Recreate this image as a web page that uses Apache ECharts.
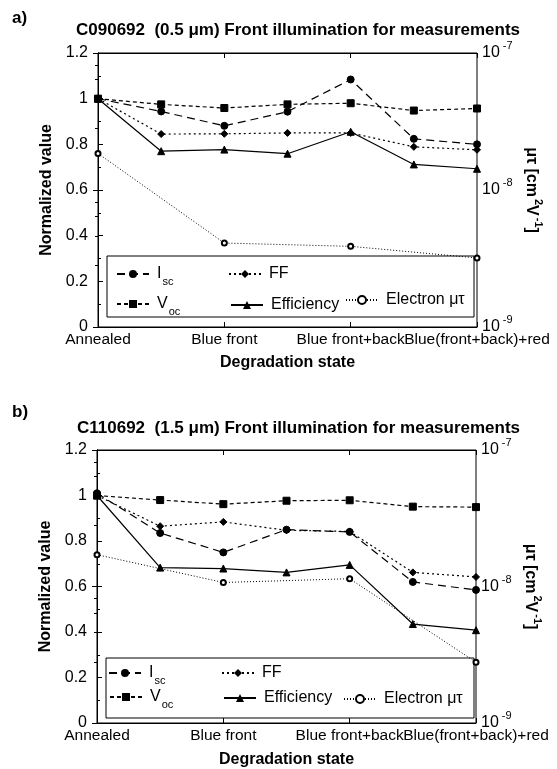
<!DOCTYPE html>
<html><head><meta charset="utf-8">
<script src="https://cdn.jsdelivr.net/npm/echarts@6/dist/echarts.min.js"></script>
<style>html,body{margin:0;padding:0;background:#fff}#c{width:557px;height:769px}</style>
</head><body><div id="c"></div>
<script>
// ---- data ----
const categories = ['Annealed', 'Blue front', 'Blue front+back', 'Blue(front+back)+red'];
const stepPositions = [0, 0.5, 1, 1.5, 2, 2.5, 3];
const muPositions = [0, 1, 2, 3];
const seriesNames = ['Isc', 'Voc', 'FF', 'Efficiency', 'Electron μτ'];
const titleA = 'C090692  (0.5 μm) Front illumination for measurements';
const titleB = 'C110692  (1.5 μm) Front illumination for measurements';
const panelLabels = ['a)', 'b)'];

const a_Isc = [1.00, 0.944, 0.881, 0.943, 1.084, 0.824, 0.800];
const a_Voc = [1.00, 0.975, 0.959, 0.975, 0.980, 0.948, 0.957];
const a_FF  = [1.00, 0.845, 0.846, 0.850, 0.850, 0.789, 0.776];
const a_Eff = [1.00, 0.770, 0.777, 0.759, 0.855, 0.712, 0.693];
const a_MuTau = [1.85e-8, 4.10e-9, 3.88e-9, 3.19e-9];

const b_Isc = [1.01, 0.835, 0.750, 0.850, 0.840, 0.620, 0.585];
const b_Voc = [1.00, 0.980, 0.962, 0.977, 0.979, 0.951, 0.949];
const b_FF  = [1.00, 0.865, 0.884, 0.847, 0.842, 0.662, 0.642];
const b_Eff = [1.00, 0.683, 0.679, 0.662, 0.695, 0.435, 0.408];
const b_MuTau = [1.71e-8, 1.07e-8, 1.14e-8, 2.79e-9];

// ---- styling / layout ----
const FONT = '"Liberation Sans", Arial, Helvetica, sans-serif';
const BLACK = '#000';
const panels = [
  { top: 53, left: 98, labelTop: 10, titleTop: 22, titleLeft: 76, title: titleA, nameGapX: 28,
    Isc: a_Isc, Voc: a_Voc, FF: a_FF, Eff: a_Eff, Mu: a_MuTau,
    box: [107, 256, 367, 61],
    leg: { Isc: [116, 266], FF: [228, 266], Voc: [116, 296], Efficiency: [230, 297], 'Electron μτ': [345, 292] } },
  { top: 450, left: 97, labelTop: 404, titleTop: 420, titleLeft: 77, title: titleB, nameGapX: 29,
    Isc: b_Isc, Voc: b_Voc, FF: b_FF, Eff: b_Eff, Mu: b_MuTau,
    box: [106, 658, 368, 60],
    leg: { Isc: [108, 665], FF: [221, 665], Voc: [109, 689], Efficiency: [223, 690], 'Electron μτ': [343, 691] } }
];
const PLOT_W = 379, PLOT_H = 274;

const styles = {
  'Isc':         { symbol: 'circle',   size: 7, type: [8, 5], width: 1.2 },
  'Voc':         { symbol: 'rect',     size: 7, type: [4, 3], width: 1.2 },
  'FF':          { symbol: 'diamond',  size: 7, type: [2, 3], width: 1.2 },
  'Efficiency':  { symbol: 'triangle', size: 7, type: 'solid', width: 1.2 },
  'Electron μτ': { symbol: 'emptyCircle', size: 5, type: [1, 2], width: 1 }
};

const supRich = { sup: { fontSize: 11, fontFamily: FONT, color: BLACK, padding: [0, 0, 14, 3] } };
const xLabelStyle = { fontFamily: FONT, fontSize: 15.5, color: BLACK, margin: 5, showMaxLabel: true, showMinLabel: true, hideOverlap: false };

const grid = [], xAxis = [], yAxis = [], series = [], legend = [], title = [], graphic = [];

panels.forEach((p, g) => {
  grid.push({ left: p.left, top: p.top, width: PLOT_W, height: PLOT_H, show: true, borderColor: BLACK, borderWidth: 1, containLabel: false });
  title.push({ text: panelLabels[g], left: 12, top: p.labelTop, padding: 0,
    textStyle: { fontFamily: FONT, fontSize: 17, fontWeight: 'bold', color: BLACK } });
  title.push({ text: p.title, left: p.titleLeft, top: p.titleTop, padding: 0,
    textStyle: { fontFamily: FONT, fontSize: 17, fontWeight: 'bold', color: BLACK } });

  // bottom x axis (the label at position 2 is drawn by a companion axis to avoid auto-hiding)
  xAxis.push({ gridIndex: g, type: 'value', min: 0, max: 3, interval: 1, position: 'bottom',
    axisLine: { lineStyle: { color: BLACK, width: 1 } },
    axisTick: { inside: true, length: 5, lineStyle: { color: BLACK } },
    axisLabel: Object.assign({ formatter: v => (Math.round(v) === 2 ? '' : categories[Math.round(v)] || '') }, xLabelStyle),
    splitLine: { show: false },
    name: 'Degradation state', nameLocation: 'middle', nameGap: p.nameGapX,
    nameTextStyle: { fontFamily: FONT, fontSize: 16, fontWeight: 'bold', color: BLACK } });
  // top x axis (ticks only)
  xAxis.push({ gridIndex: g, type: 'value', min: 0, max: 3, interval: 1, position: 'top',
    axisLine: { lineStyle: { color: BLACK, width: 1 } },
    axisTick: { inside: true, length: 5, lineStyle: { color: BLACK } },
    axisLabel: { show: false }, splitLine: { show: false } });
  // companion bottom axis for the label at position 2
  xAxis.push({ gridIndex: g, type: 'value', min: 0, max: 3, interval: 1, position: 'bottom', offset: 0,
    axisLine: { show: false }, axisTick: { show: false }, splitLine: { show: false },
    axisLabel: Object.assign({ formatter: v => (Math.round(v) === 2 ? categories[2] : '') }, xLabelStyle) });

  // left normalized axis
  yAxis.push({ gridIndex: g, type: 'value', min: 0, max: 1.2, interval: 0.2, position: 'left',
    axisLine: { show: true, lineStyle: { color: BLACK, width: 1 } },
    axisTick: { show: true, inside: true, length: 5, lineStyle: { color: BLACK } },
    minorTick: { show: true, splitNumber: 2, length: 3, lineStyle: { color: BLACK } },
    axisLabel: { fontFamily: FONT, fontSize: 16, color: BLACK, margin: 10 },
    splitLine: { show: false },
    name: 'Normalized value', nameLocation: 'middle', nameGap: 39, nameRotate: 90,
    nameTextStyle: { fontFamily: FONT, fontSize: 16, fontWeight: 'bold', color: BLACK } });
  // right log axis
  yAxis.push({ gridIndex: g, type: 'log', logBase: 10, min: 1e-9, max: 1e-7, position: 'right',
    axisLine: { show: true, lineStyle: { color: BLACK, width: 1 } },
    axisTick: { show: true, inside: true, length: 5, lineStyle: { color: BLACK } },
    minorTick: { show: true, splitNumber: 5, length: 3, lineStyle: { color: BLACK } },
    axisLabel: { fontFamily: FONT, fontSize: 16, color: BLACK, margin: 5,
      formatter: v => '10{sup|' + Math.round(Math.log10(v)) + '}', rich: supRich },
    splitLine: { show: false },
    name: 'μτ [cm{sup|2}V{sup|-1}]', nameLocation: 'middle', nameGap: 42, nameRotate: -90,
    nameTextStyle: { fontFamily: FONT, fontSize: 16, fontWeight: 'bold', color: BLACK, rich: { sup: { fontSize: 11, fontWeight: 'bold', fontFamily: FONT, color: BLACK, padding: [0, 0, 14, 2] } } } });

  const leftSets = [['Isc', p.Isc], ['Voc', p.Voc], ['FF', p.FF], ['Efficiency', p.Eff]];
  leftSets.forEach(([name, vals]) => {
    const s = styles[name];
    series.push({ name, type: 'line', xAxisIndex: 3 * g, yAxisIndex: 2 * g,
      data: stepPositions.map((x, i) => [x, vals[i]]),
      symbol: s.symbol, symbolSize: s.size, showAllSymbol: true,
      lineStyle: { color: BLACK, width: s.width, type: s.type },
      itemStyle: { color: BLACK, borderColor: BLACK },
      animation: false, silent: true });
  });
  const ms = styles['Electron μτ'];
  series.push({ name: 'Electron μτ', type: 'line', xAxisIndex: 3 * g, yAxisIndex: 2 * g + 1,
    data: muPositions.map((x, i) => [x, p.Mu[i]]),
    symbol: ms.symbol, symbolSize: ms.size,
    lineStyle: { color: BLACK, width: ms.width, type: ms.type },
    itemStyle: { color: BLACK, borderColor: BLACK, borderWidth: 1 },
    animation: false, silent: true });

  Object.keys(p.leg).forEach(name => {
    const [l, t] = p.leg[name];
    legend.push({ data: [name], left: l, top: t, padding: 0, itemWidth: 32, itemHeight: 10, itemGap: 0,
      selectedMode: false,
      formatter: n => n === 'Isc' ? 'I{sub|sc}' : n === 'Voc' ? 'V{sub|oc}' : n,
      textStyle: { fontFamily: FONT, fontSize: 16, color: BLACK, padding: [0, 0, 0, 3],
        rich: { sub: { fontSize: 11, fontFamily: FONT, color: BLACK, padding: [16, 0, 0, 1] } } } });
  });

  graphic.push({ type: 'rect', shape: { x: p.box[0], y: p.box[1], width: p.box[2], height: p.box[3] },
    style: { fill: null, stroke: BLACK, lineWidth: 1 }, silent: true });
});

const chart = echarts.init(document.getElementById('c'), null, { renderer: 'canvas' });
chart.setOption({ backgroundColor: '#fff', animation: false, title, grid, xAxis, yAxis, series, legend, graphic });
</script></body></html>
